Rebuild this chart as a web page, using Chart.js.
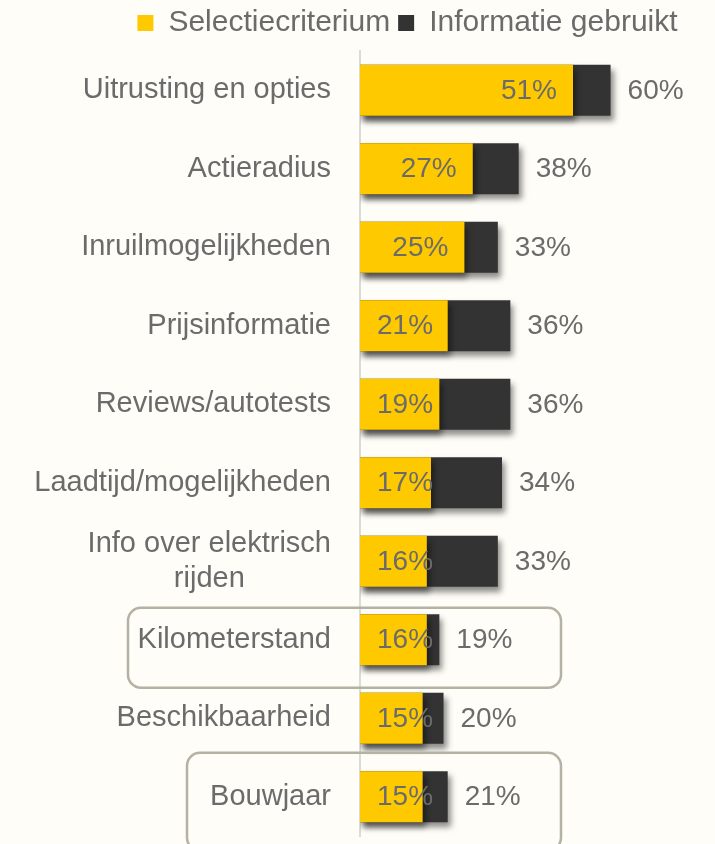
<!DOCTYPE html>
<html>
<head>
<meta charset="utf-8">
<script src="https://cdn.jsdelivr.net/npm/chart.js@4.4.1/dist/chart.umd.min.js"></script>
<style>
  html, body { margin: 0; padding: 0; background: #fefdf7; }
  #wrap { width: 715px; height: 844px; position: relative; }
</style>
</head>
<body>
<div id="wrap"><canvas id="chart"></canvas></div>
<script>
// --- data ---
const categories = [
    'Uitrusting en opties',
    'Actieradius',
    'Inruilmogelijkheden',
    'Prijsinformatie',
    'Reviews/autotests',
    'Laadtijd/mogelijkheden',
    ['Info over elektrisch', 'rijden'],
    'Kilometerstand',
    'Beschikbaarheid',
    'Bouwjaar'
];
const selectieValues = [51, 27, 25, 21, 19, 17, 16, 16, 15, 15];
const gebruiktValues = [60, 38, 33, 36, 36, 34, 33, 19, 20, 21];
const seriesNames = ['Selectiecriterium', 'Informatie gebruikt'];
const highlightedRows = ['Kilometerstand', 'Bouwjaar'];

const TEXT = '#6b6b6b';
const FONT = "'Liberation Sans', Arial, sans-serif";

// drop shadow under the bars
const barShadow = {
    id: 'barShadow',
    beforeDatasetDraw(chart) {
        const ctx = chart.ctx;
        ctx.save();
        ctx.shadowColor = 'rgba(0,0,0,0.45)';
        ctx.shadowBlur = 6;
        ctx.shadowOffsetX = 3;
        ctx.shadowOffsetY = 5;
    },
    afterDatasetDraw(chart) {
        chart.ctx.restore();
    }
};

// category labels on the left, multi-line ones centred on each other
const rowLabels = {
    id: 'rowLabels',
    afterDraw(chart) {
        const ctx = chart.ctx;
        const yScale = chart.scales.y;
        const right = chart.chartArea.left - 29;
        ctx.save();
        ctx.font = '29px ' + FONT;
        ctx.fillStyle = TEXT;
        ctx.textBaseline = 'middle';
        ctx.textAlign = 'center';
        categories.forEach((label, i) => {
            const y = yScale.getPixelForValue(i);
            const lines = Array.isArray(label) ? label : [label];
            const widest = Math.max(...lines.map(l => ctx.measureText(l).width));
            const center = right - widest / 2;
            lines.forEach((l, k) => {
                ctx.fillText(l, center, y + (k - (lines.length - 1) / 2) * 35);
            });
        });
        ctx.restore();
    }
};

// percentage labels: inside the yellow bar, outside the dark bar
const valueLabels = {
    id: 'valueLabels',
    afterDatasetsDraw(chart) {
        const ctx = chart.ctx;
        ctx.save();
        ctx.font = '28px ' + FONT;
        ctx.fillStyle = TEXT;
        ctx.textBaseline = 'middle';
        ctx.textAlign = 'left';
        chart.getDatasetMeta(0).data.forEach((bar, i) => {
            const txt = selectieValues[i] + '%';
            const w = ctx.measureText(txt).width;
            const x = Math.max(bar.x - 16 - w, bar.base + 17);
            ctx.fillText(txt, x, bar.y + 1);
        });
        chart.getDatasetMeta(1).data.forEach((bar, i) => {
            ctx.fillText(gebruiktValues[i] + '%', bar.x + 17, bar.y + 1);
        });
        ctx.restore();
    }
};

// rounded frames around the highlighted rows
const rowFrames = {
    id: 'rowFrames',
    afterDraw(chart) {
        const ctx = chart.ctx;
        const yScale = chart.scales.y;
        const frames = {
            'Kilometerstand': { left: 128, top: -32, bottom: 48 },
            'Bouwjaar': { left: 187, top: -44, bottom: 54 }
        };
        ctx.save();
        ctx.strokeStyle = '#b3b2a3';
        ctx.lineWidth = 2.5;
        highlightedRows.forEach(name => {
            const i = categories.indexOf(name);
            const y = yScale.getPixelForValue(i);
            const f = frames[name];
            ctx.beginPath();
            ctx.roundRect(f.left, y + f.top, 561 - f.left, f.bottom - f.top, 13);
            ctx.stroke();
        });
        ctx.restore();
    }
};

new Chart(document.getElementById('chart'), {
    type: 'bar',
    data: {
        labels: categories,
        datasets: [
            {
                label: seriesNames[0],
                data: selectieValues,
                backgroundColor: '#ffc900',
                grouped: false,
                barPercentage: 0.65,
                categoryPercentage: 1
            },
            {
                label: seriesNames[1],
                data: gebruiktValues,
                backgroundColor: '#333333',
                grouped: false,
                barPercentage: 0.65,
                categoryPercentage: 1
            }
        ]
    },
    options: {
        indexAxis: 'y',
        responsive: true,
        maintainAspectRatio: false,
        animation: false,
        layout: { padding: { left: 100, right: 0, top: 0, bottom: 8 } },
        scales: {
            x: {
                position: 'top',
                min: 0,
                max: 85,
                grid: { display: false },
                border: { display: false },
                ticks: { display: false },
                afterFit(scale) { scale.height = 3; }
            },
            y: {
                grid: { display: false },
                border: { display: true, color: '#dcdcd6', width: 2 },
                ticks: { display: false },
                afterFit(scale) { scale.width = 260; }
            }
        },
        plugins: {
            legend: {
                position: 'top',
                align: 'center',
                labels: {
                    boxWidth: 16,
                    boxHeight: 16,
                    padding: 8,
                    color: TEXT,
                    font: { family: FONT, size: 30 }
                }
            },
            tooltip: { enabled: false }
        }
    },
    plugins: [barShadow, rowLabels, valueLabels, rowFrames]
});
</script>
</body>
</html>
